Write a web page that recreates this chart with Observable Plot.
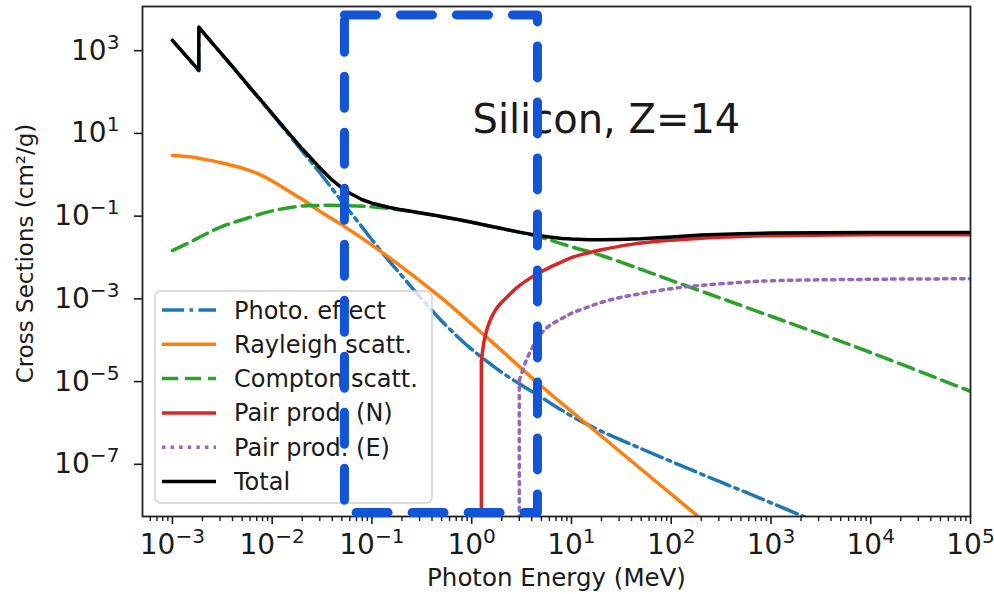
<!DOCTYPE html>
<html>
<head>
<meta charset="utf-8">
<style>
  html, body { margin: 0; padding: 0; background: #fff; }
  svg { display: block; }
</style>
<script src="https://cdn.jsdelivr.net/npm/d3@7"></script>
<script src="https://cdn.jsdelivr.net/npm/@observablehq/plot@0.6"></script>
</head>
<body>
<div id="chart"></div>
<script>
// ---------------- data (Photon Energy in MeV, cross section in cm^2/g) ----------------
const seriesNames = ["Photo. effect", "Rayleigh scatt.", "Compton scatt.", "Pair prod. (N)", "Pair prod. (E)", "Total"];

const photo = [
  [1e-3, 1585], [1.839e-3, 297], [1.839e-3, 3295], [2e-3, 2595], [3e-3, 826], [4e-3, 367],
  [5e-3, 192], [6e-3, 113], [8e-3, 49.6], [1e-2, 26], [1.5e-2, 7.9], [2e-2, 3.35], [3e-2, 1.0],
  [4e-2, 0.41], [5e-2, 0.20], [6e-2, 0.115], [8e-2, 0.048], [0.1, 0.024], [0.15, 0.0072],
  [0.2, 0.0032], [0.3, 1.02e-3], [0.4, 4.7e-4], [0.5, 2.6e-4], [0.7, 1.17e-4], [1, 5.4e-5],
  [1.5, 2.5e-5], [2, 1.5e-5], [3, 7.9e-6], [5, 3.7e-6], [10, 1.32e-6], [20, 5.6e-7],
  [50, 2.14e-7], [100, 1.05e-7], [200, 5.2e-8], [500, 2.1e-8], [1000, 1.05e-8],
  [2000, 5.2e-9], [3162, 3.3e-9]
];

const rayleigh = [
  [1e-3, 2.63], [1.5e-3, 2.43], [2e-3, 2.16], [3e-3, 1.78], [5e-3, 1.30], [7e-3, 0.977],
  [1e-2, 0.631], [1.5e-2, 0.347], [2e-2, 0.229], [3e-2, 0.1175], [5e-2, 0.055], [0.1, 0.0178],
  [0.2, 0.00525], [0.5, 9.3e-4], [1, 2.19e-4], [2, 5.0e-5], [5, 6.9e-6], [10, 1.70e-6],
  [20, 4.27e-7], [50, 6.8e-8], [100, 1.7e-8], [200, 4.27e-9], [300, 1.9e-9]
];

const compton = [
  [1e-3, 0.0132], [1.5e-3, 0.021], [2e-3, 0.030], [3e-3, 0.048], [5e-3, 0.073], [1e-2, 0.12],
  [2e-2, 0.158], [3e-2, 0.163], [5e-2, 0.162], [0.1, 0.150], [0.2, 0.124], [0.5, 0.0868],
  [1, 0.0632], [2, 0.0447], [5, 0.0272], [10, 0.0162], [20, 0.0100], [50, 0.0046],
  [100, 0.0025], [1000, 3.4e-4], [1e4, 4.5e-5], [1e5, 5.2e-6]
];

const pairNuclear = [
  [1.25, 1e-9], [1.25, 2.8e-5], [1.35, 1.0e-4], [1.5, 2.4e-4], [1.75, 5.0e-4], [2, 7.4e-4],
  [2.5, 1.26e-3], [3, 1.86e-3], [4, 3.0e-3], [5, 4.1e-3], [6, 5.1e-3], [8, 7.0e-3], [10, 8.9e-3],
  [15, 0.0117], [20, 0.0138], [30, 0.0166], [50, 0.020], [100, 0.0234], [200, 0.0263],
  [500, 0.0288], [1000, 0.0302], [1e4, 0.0316], [1e5, 0.0318]
];

const pairElectron = [
  [3, 1e-9], [3, 9.5e-6], [3.5, 2.8e-5], [4, 5.6e-5], [5, 1.32e-4], [6, 2.0e-4], [8, 3.0e-4],
  [10, 4.0e-4], [15, 5.8e-4], [20, 7.4e-4], [30, 9.5e-4], [50, 1.2e-3], [100, 1.58e-3],
  [200, 1.9e-3], [500, 2.24e-3], [1000, 2.45e-3], [1e4, 2.66e-3], [1e5, 2.74e-3]
];

const total = [
  [1e-3, 1590], [1.839e-3, 300], [1.839e-3, 3300], [2e-3, 2600], [3e-3, 830], [4e-3, 370],
  [5e-3, 195], [6e-3, 115], [8e-3, 51], [1e-2, 27], [1.5e-2, 8.5], [2e-2, 3.8], [3e-2, 1.32],
  [4e-2, 0.66], [5e-2, 0.43], [6e-2, 0.32], [8e-2, 0.223], [0.1, 0.184], [0.15, 0.145],
  [0.2, 0.127], [0.3, 0.108], [0.4, 0.0963], [0.5, 0.0875], [0.6, 0.0808], [0.8, 0.0708],
  [1, 0.0636], [1.5, 0.0518], [2, 0.0448], [3, 0.0368], [4, 0.0324], [5, 0.0297], [6, 0.0279],
  [8, 0.0258], [10, 0.0249], [15, 0.0241], [20, 0.0241], [30, 0.0244], [50, 0.0253],
  [100, 0.0282], [200, 0.0313], [500, 0.0338], [1000, 0.0350], [1e4, 0.0358], [1e5, 0.0362]
];

// highlighted energy window (dashed blue box), in data units
const highlightE = [0.053, 4.56];
const highlightS = [6.1e-9, 6560];

const titleText = "Silicon, Z=14";
const xLabel = "Photon Energy (MeV)";
const yLabel = "Cross Sections (cm²/g)";

const xTicks = [1e-3, 1e-2, 1e-1, 1e0, 1e1, 1e2, 1e3, 1e4, 1e5];
const yTicks = [1e3, 1e1, 1e-1, 1e-3, 1e-5, 1e-7];

// ---------------- styles ----------------
const seriesData = [photo, rayleigh, compton, pairNuclear, pairElectron, total];
// split: number of leading points drawn straight (edges / thresholds), rest smoothed
const seriesStyle = [
  {stroke: "#1f77b4", dash: "22,5.5,3.5,5.5", split: 2},
  {stroke: "#ff7f0e", dash: null, split: 0},
  {stroke: "#2ca02c", dash: "16,7", split: 0},
  {stroke: "#d62728", dash: null, split: 1},
  {stroke: "#9467bd", dash: "3.4,5.2", split: 1},
  {stroke: "#000000", dash: null, split: -1}
];
const LW = 3.5;

// minor x ticks 2..9 x 10^k within the domain
const xMinor = [];
for (let k = -4; k <= 4; k++) for (let m = 2; m <= 9; m++) {
  const v = m * Math.pow(10, k);
  if (v >= Math.pow(10, -3.3) && v <= 1e5) xMinor.push(v);
}

const sup = {"0":"⁰","1":"¹","2":"²","3":"³","4":"⁴","5":"⁵","6":"⁶","7":"⁷","8":"⁸","9":"⁹","-":"⁻"};
const unsup = {"⁰":"0","¹":"1","²":"2","³":"3","⁴":"4","⁵":"5","⁶":"6","⁷":"7","⁸":"8","⁹":"9","⁻":"−"};
const fmtPow = d => "10" + String(Math.round(Math.log10(d))).split("").map(c => sup[c]).join("");

const boxPts = [
  [highlightE[0], highlightS[1]], [highlightE[1], highlightS[1]],
  [highlightE[1], highlightS[0]], [highlightE[0], highlightS[0]],
  [highlightE[0], highlightS[1]]
];

// legend drawn as a custom render mark (inside the axes, lower left)
function legendMark(index, scales, values, dims) {
  const g = d3.create("svg:g");
  const x0 = dims.marginLeft + 13, y0 = dims.marginTop + 285;
  g.append("rect").attr("x", x0).attr("y", y0).attr("width", 277).attr("height", 212)
    .attr("rx", 6).attr("fill", "white").attr("fill-opacity", 0.8)
    .attr("stroke", "#d0d0d0").attr("stroke-width", 1.5);
  seriesNames.forEach((name, i) => {
    const cy = y0 + 19 + i * 34.3;
    const st = seriesStyle[i];
    g.append("line").attr("x1", x0 + 7).attr("x2", x0 + 61).attr("y1", cy).attr("y2", cy)
      .attr("stroke", st.stroke).attr("stroke-width", LW)
      .attr("stroke-dasharray", st.dash);
    g.append("text").attr("x", x0 + 79).attr("y", cy + 8.5)
      .attr("text-anchor", "start")
      .attr("font-size", 24).attr("fill", "#1a1a1a").text(name);
  });
  return g.node();
}

const xy = {x: d => d[0], y: d => d[1]};
const lineMarks = [];
seriesData.forEach((data, i) => {
  const st = seriesStyle[i];
  const base = {...xy, stroke: st.stroke, strokeWidth: LW, strokeDasharray: st.dash || undefined,
    strokeLinejoin: "round", clip: true};
  if (st.split < 0) {
    lineMarks.push(Plot.line(data, base));
  } else if (st.split === 0) {
    lineMarks.push(Plot.line(data, {...base, curve: "catmull-rom"}));
  } else {
    lineMarks.push(Plot.line(data.slice(0, st.split + 1), base));
    lineMarks.push(Plot.line(data.slice(st.split), {...base, curve: "catmull-rom"}));
  }
});

const chart = Plot.plot({
  width: 994,
  height: 594,
  marginLeft: 142,
  marginRight: 24,
  marginTop: 6,
  marginBottom: 78,
  style: {fontFamily: "'DejaVu Sans', sans-serif", background: "white", color: "#1a1a1a"},
  x: {type: "log", domain: [Math.pow(10, -3.3), 1e5]},
  y: {type: "log", domain: [Math.pow(10, -8.31), Math.pow(10, 4.02)]},
  marks: [
    ...lineMarks,
    Plot.frame({stroke: "#222", strokeWidth: 1.8}),
    Plot.axisX({ticks: xMinor, tickSize: 5, tickFormat: () => "", label: null, strokeWidth: 1.4}),
    Plot.axisX({ticks: xTicks, tickSize: 8, tickPadding: 10, tickFormat: fmtPow, fontSize: 28, label: null, strokeWidth: 1.6}),
    Plot.axisY({ticks: yTicks, tickSize: 8, tickPadding: 15, tickFormat: fmtPow, fontSize: 28, label: null, strokeWidth: 1.6, dy: 2}),
    Plot.text([xLabel], {text: d => d, frameAnchor: "bottom", dy: 62, textAnchor: "middle", lineAnchor: "middle", fontSize: 24.5}),
    Plot.text([yLabel], {text: d => d, frameAnchor: "left", dx: -117, dy: -8, rotate: -90, textAnchor: "middle", lineAnchor: "middle", fontSize: 23}),
    Plot.text([titleText], {text: d => d, frameAnchor: "top-left", dx: 330, dy: 114, textAnchor: "start", lineAnchor: "middle", fontSize: 40, fill: "#1a1a1a"}),
    legendMark,
    Plot.line(boxPts, {x: d => d[0], y: d => d[1], stroke: "#1254d6", strokeWidth: 9,
      strokeDasharray: "32,24", strokeLinejoin: "round"})
  ]
});

// render exponents as real superscripts
d3.select(chart).selectAll("text").each(function() {
  const t = this.textContent;
  if (!/^10[⁰¹²³⁴⁵⁶⁷⁸⁹⁻]+$/.test(t)) return;
  const exp = Array.from(t.slice(2)).map(c => unsup[c] || c).join("");
  const sel = d3.select(this);
  sel.text(null);
  sel.append("tspan").text("10");
  sel.append("tspan").attr("dy", -11).attr("font-size", "0.72em").text(exp);
});

document.getElementById("chart").appendChild(chart);
</script>
</body>
</html>
